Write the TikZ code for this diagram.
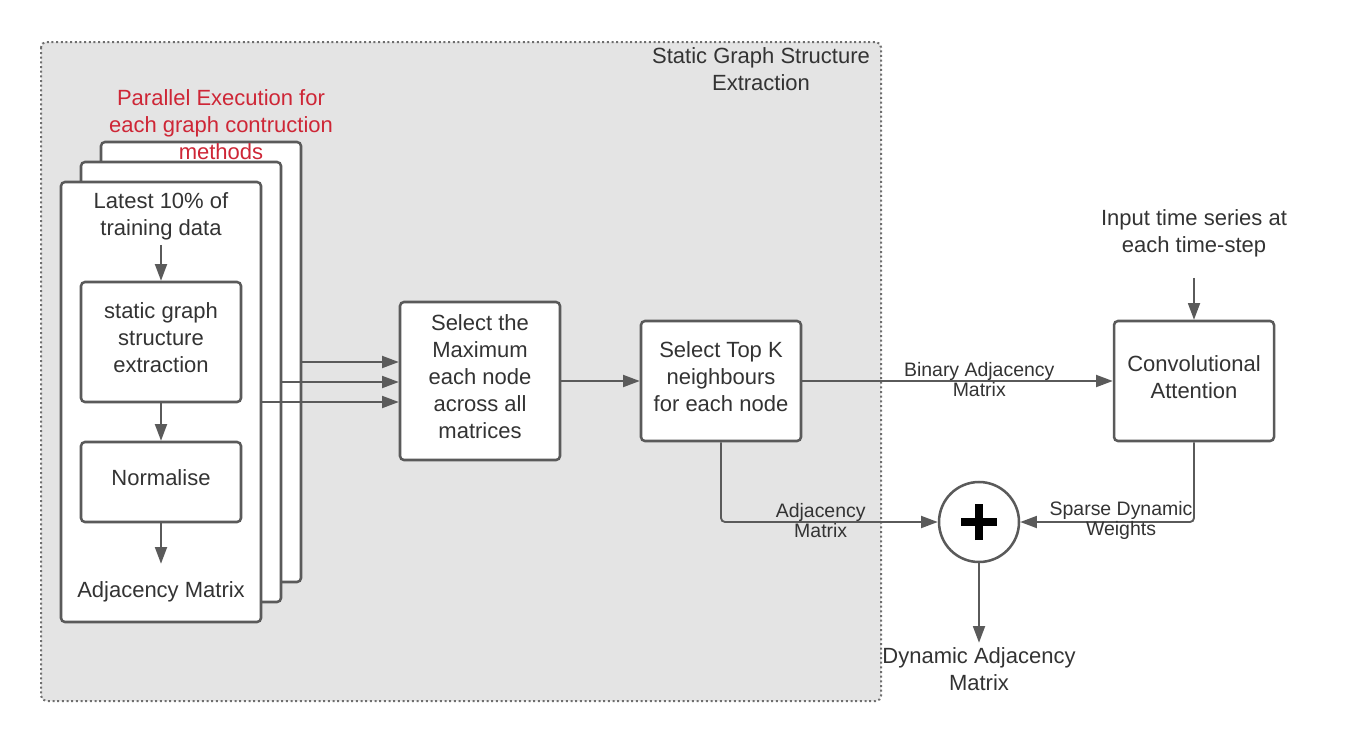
\documentclass[tikz,border=0pt]{standalone}
\usepackage{fontspec}
\setmainfont{Liberation Sans}
\usetikzlibrary{arrows.meta}

\definecolor{linegray}{RGB}{90,90,90}
\definecolor{textgray}{RGB}{51,51,51}
\definecolor{regiongray}{RGB}{228,228,228}
\definecolor{regionline}{RGB}{110,110,110}
\definecolor{paralred}{RGB}{206,38,54}

\newcommand{\mainfs}{\fontsize{16.5}{20.25}\selectfont}
\newcommand{\smallfs}{\fontsize{14.6}{15}\selectfont}

\tikzset{
  box/.style={draw=linegray, line width=1.9pt, rounded corners=3pt, fill=white,
    align=center, text=textgray, font=\mainfs, inner sep=0pt, text depth=6pt},
  arr/.style={draw=linegray, line width=1.4pt, -{Triangle[length=12.5pt,width=9pt]}},
  lbl/.style={align=center, text=textgray, font=\mainfs},
  small/.style={align=center, text=textgray, font=\smallfs, inner sep=0pt},
}

\begin{document}
\begin{tikzpicture}[x=0.75pt, y=-0.75pt]
\useasboundingbox (0,0) rectangle (1355,743);

% Static region
\draw[draw=regionline, fill=regiongray, dotted, line width=1.5pt, rounded corners=4pt]
    (41,42) rectangle (881,701);
\node[lbl] (title) at (761,69.5) {Static Graph Structure\\Extraction};

% Stacked methods
\node[box, minimum width=150pt, minimum height=330pt] (stackC) at (201,362) {};
\node[box, minimum width=150pt, minimum height=330pt] (stackB) at (181,382) {};
\node[box, minimum width=150pt, minimum height=330pt] (stackA) at (161,402) {};
\node[lbl, text=paralred] (parallel) at (221,125)
    {Parallel Execution for\\each graph contruction\\methods};

% Front box content
\node[lbl] (latest) at (161,216.5) {Latest 10\% of\\training data};
\node[box, minimum width=120pt, minimum height=90pt] (extract) at (161,342)
    {static graph\\structure\\extraction};
\node[box, minimum width=120pt, minimum height=60pt] (norm) at (161,482) {Normalise};
\node[lbl] (adjout) at (161,592) {Adjacency Matrix};

\draw[arr] (latest) -- (extract);
\draw[arr] (extract) -- (norm);
\draw[arr, shorten >=10pt] (norm) -- (adjout);

% Selection steps
\node[box, minimum width=120pt, minimum height=118.5pt] (maxsel) at (480,381)
    {Select the\\Maximum\\each node\\across all\\matrices};
\node[box, minimum width=120pt, minimum height=90pt] (topk) at (721,381)
    {Select Top K\\neighbours\\for each node};

\draw[arr] (stackC.east) -- (stackC.east -| maxsel.west);
\draw[arr] (stackB.east) -- (stackB.east -| maxsel.west);
\draw[arr] (stackA.east) -- (stackA.east -| maxsel.west);
\draw[arr] (maxsel) -- (topk);

% Dynamic part
\node[lbl] (input) at (1194,233.5) {Input time series at\\each time-step};
\node[box, minimum width=120pt, minimum height=90pt] (conv) at (1194,381)
    {Convolutional\\Attention};
\node[draw=linegray, line width=1.9pt, fill=white, circle, minimum size=60pt,
    inner sep=0pt] (plus) at (979,522) {};
\draw[line width=6.5pt] ([xshift=-13.5pt]plus.center) -- ([xshift=13.5pt]plus.center);
\draw[line width=6.5pt] ([yshift=-13.5pt]plus.center) -- ([yshift=13.5pt]plus.center);
\node[lbl] (dynout) at (979,669) {Dynamic Adjacency\\Matrix};

\draw[arr, shorten <=12pt] (input) -- (conv);
\draw[arr] (topk) -- node[small, pos=0.57, yshift=1pt] {Binary Adjacency\\Matrix} (conv);
\draw[arr, rounded corners=3pt] (topk.south) |- node[small, pos=0.73, yshift=1pt] {Adjacency\\Matrix} (plus.west);
\draw[arr, rounded corners=3pt] (conv.south) |- node[small, pos=0.71, yshift=1pt] {Sparse Dynamic\\Weights} (plus.east);
\draw[arr] (plus) -- (dynout);

\end{tikzpicture}
\end{document}
